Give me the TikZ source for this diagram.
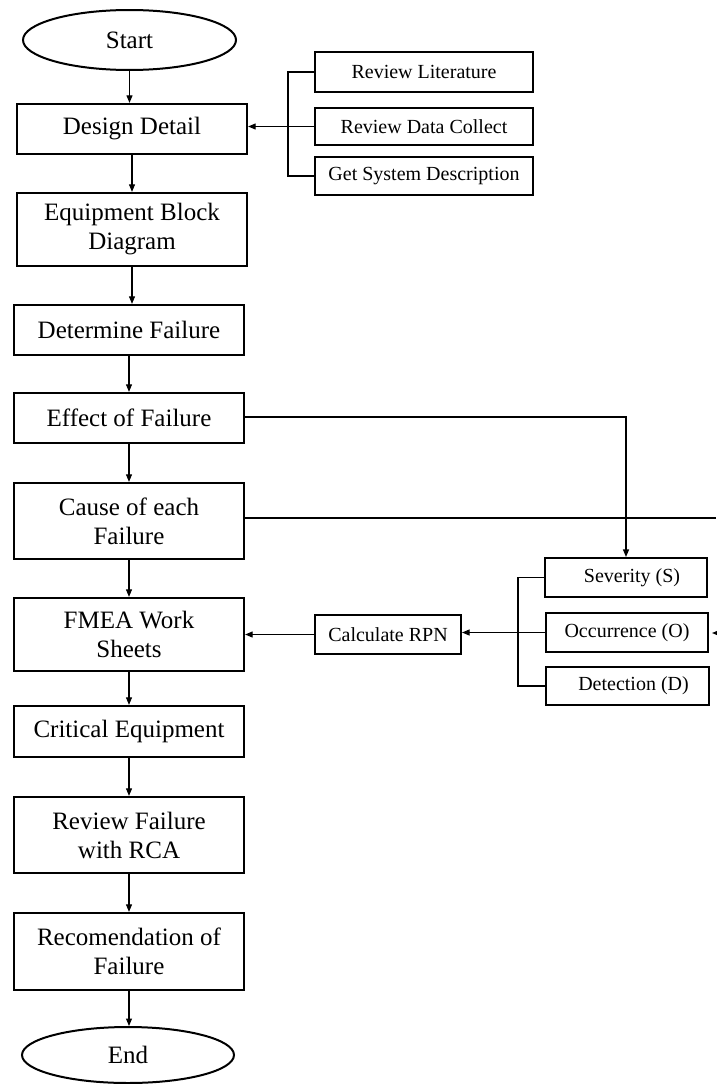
\documentclass[tikz,border=0pt]{standalone}
\usepackage{fontspec}
\setmainfont{Liberation Serif}
\usetikzlibrary{arrows.meta,shapes.geometric}
\begin{document}
\begin{tikzpicture}[x=1pt,y=-1pt,
  mainbox/.style={draw,line width=2.3pt,minimum width=230pt,align=center,inner sep=0pt,font=\fontsize{25}{29}\selectfont},
  sidebox/.style={draw,line width=2.1pt,align=center,inner sep=0pt,font=\fontsize{20}{23}\selectfont},
  term/.style={draw,ellipse,line width=2pt,inner sep=0pt,font=\fontsize{25}{29}\selectfont},
  conn/.style={line width=1.1pt},
  arr/.style={conn,-{Triangle[length=7.5pt,width=6pt]}}]
\fill[white] (0,0) rectangle (716,1084);
\useasboundingbox (0,0) rectangle (716,1084);

% main column
\node[term,minimum width=213pt,minimum height=60pt] (start) at (129.5,40) {Start};
\node[mainbox,minimum height=50pt] (design) at (132,129) {Design Detail};
\node[mainbox,minimum height=73pt] (equip) at (132,229.5) {Equipment Block\\Diagram};
\node[mainbox,minimum height=50pt] (determine) at (129,330) {Determine Failure};
\node[mainbox,minimum height=50pt] (effect) at (129,418) {Effect of Failure};
\node[mainbox,minimum height=76pt] (cause) at (129,521) {Cause of each\\Failure};
\node[mainbox,minimum height=73pt] (fmea) at (129,634.5) {FMEA Work\\Sheets};
\node[mainbox,minimum height=51pt] (critical) at (129,731.5) {Critical Equipment};
\node[mainbox,minimum height=76pt] (rca) at (129,835) {Review Failure\\with RCA};
\node[mainbox,minimum height=77pt] (rec) at (129,951.5) {Recomendation of\\Failure};
\node[term,minimum width=212pt,minimum height=56pt] (end) at (128,1055) {End};

% side boxes top
\node[sidebox,minimum width=218pt,minimum height=40pt] (rl) at (424,72) {Review Literature};
\node[sidebox,minimum width=218pt,minimum height=37pt] (rdc) at (424,126.5) {Review Data Collect};
\node[sidebox,minimum width=218pt,minimum height=38pt] (gsd) at (424,176) {Get System Description};

% side boxes bottom
\node[sidebox,minimum width=162pt,minimum height=39pt] (sev) at (626,577.5) {\hspace*{12pt}Severity (S)};
\node[sidebox,minimum width=162pt,minimum height=39pt] (occ) at (627,632.5) {Occurrence (O)};
\node[sidebox,minimum width=163pt,minimum height=38pt] (det) at (627.5,686) {\hspace*{12pt}Detection (D)};
\node[sidebox,minimum width=146pt,minimum height=39pt] (calc) at (388,634.5) {Calculate RPN};

\coordinate (b1) at (288,0);
\coordinate (b2) at (518,0);
\coordinate (edgeA) at (716,518);
\coordinate (edgeB) at (716,633);

% main flow arrows
\draw[arr] (start.south) -- (start.south |- design.north);
\draw[arr] (design.south) -- (design.south |- equip.north);
\draw[arr] (equip.south) -- (equip.south |- determine.north);
\draw[arr] (determine.south) -- (determine.south |- effect.north);
\draw[arr] (effect.south) -- (effect.south |- cause.north);
\draw[arr] (cause.south) -- (cause.south |- fmea.north);
\draw[arr] (fmea.south) -- (fmea.south |- critical.north);
\draw[arr] (critical.south) -- (critical.south |- rca.north);
\draw[arr] (rca.south) -- (rca.south |- rec.north);
\draw[arr] (rec.south) -- (rec.south |- end.north);

% top bracket
\draw[conn] (rl.west) -- (rl.west -| b1) -- (gsd.west -| b1) -- (gsd.west);
\draw[arr] (rdc.west) -- (rdc.west -| design.east);

% lower bracket
\draw[conn] (sev.west) -- (sev.west -| b2) -- (det.west -| b2) -- (det.west);
\draw[arr] (occ.west) -- (occ.west -| calc.east);
\draw[arr] (calc.west) -- (calc.west -| fmea.east);

% effect and cause lines
\draw[arr] ([yshift=1pt]effect.east) -| (sev.north);
\draw[conn] (cause.east |- edgeA) -- (edgeA);
\draw[arr,shorten >=3pt] (edgeB) -- (edgeB -| occ.east);
\end{tikzpicture}
\end{document}
